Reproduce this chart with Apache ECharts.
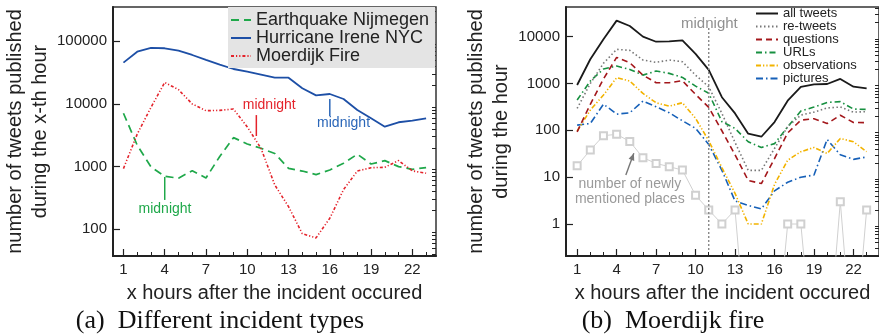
<!DOCTYPE html>
<html><head><meta charset="utf-8">
<script src="https://cdn.jsdelivr.net/npm/echarts@6/dist/echarts.min.js"></script>
<style>html,body{margin:0;padding:0;background:#fff}#c{width:879px;height:334px}</style>
</head><body><div id="c"></div>
<script>
// ---- data ----
const hours = [1,2,3,4,5,6,7,8,9,10,11,12,13,14,15,16,17,18,19,20,21,22,23];
const xMajorTicks = [1,4,7,10,13,16,19,22];
const xMinorTicks = [1,2,3,4,5,6,7,8,9,10,11,12,13,14,15,16,17,18,19,20,21,22,23];
const yTicksLeft = [100,1000,10000,100000];
const yMinorLeft = [40,50,60,70,80,90,200,300,400,500,600,700,800,900,2000,3000,4000,5000,6000,7000,8000,9000,20000,30000,40000,50000,60000,70000,80000,90000,200000,300000];
const yTicksRight = [1,10,100,1000,10000];
const yMinorRight = [0.3,0.4,0.5,0.6,0.7,0.8,0.9,2,3,4,5,6,7,8,9,20,30,40,50,60,70,80,90,200,300,400,500,600,700,800,900,2000,3000,4000,5000,6000,7000,8000,9000,20000,30000,40000];

// (a) different incident types
const earthquake = [7100,2200,990,700,655,860,660,1450,2900,2300,1960,1620,940,850,745,883,1130,1575,1100,1245,1000,906,964];
const hurricane  = [45600,68200,78200,77300,70800,60400,50300,42400,36100,32700,29300,26200,26200,17800,13700,14400,12000,8000,5900,4340,5100,5400,5900];
const moerdijk   = [930,3300,8800,22000,16900,10000,7800,7900,8300,4300,1950,510,230,85,73,150,430,850,960,975,1250,855,785];

// (b) Moerdijk fire
const allTweets    = [930,3300,8800,22000,16900,10000,7800,7900,8300,4300,1950,510,230,85,73,150,430,850,960,975,1250,855,785];
const retweets     = [294,1000,2700,5360,5100,3170,2830,3170,2920,1510,850,230,55,14,14,41,120,212,245,300,315,245,250];
const questions    = [93,360,1250,3610,2780,1510,1040,1040,1145,585,310,98,30,8.5,7.3,25,88,165,177,140,210,147,146];
const urls         = [443,1128,2040,2360,2000,1510,1845,1645,1350,880,620,153,110,57,43,52,119,258,315,395,410,285,280];
const observations = [96,270,566,1330,1128,614,388,329,388,180,60,16,4.5,1,1,7,23,35,43,32,67,57,35];
const pictures     = [129,140,363,222,237,421,318,237,160,110,50,14,3.1,2.5,2.1,5.1,7.8,10,11.1,64,30,24,27];
const newPlaces    = [17.5,38,77,82,58,26,19.7,16.7,14.2,4.1,2,1,2,0.001,0.001,0.001,1,1,0.001,0.001,3,0.001,2];

const FONT = '"Liberation Sans", Arial, Helvetica, sans-serif';
const AX = '#222';

function pairs(ys){ return hours.map((h,i)=>[h, ys[i]]); }

function xMain(gi, min, max){
  return {type:'value', gridIndex:gi, min:min, max:max, position:'bottom',
    axisLine:{show:true, onZero:false, lineStyle:{color:AX, width:2}},
    axisTick:{show:true, inside:true, length:7, customValues:xMajorTicks, lineStyle:{color:AX, width:1.2}},
    axisLabel:{show:true, customValues:xMajorTicks, margin:6, fontSize:15, color:AX, fontFamily:FONT},
    splitLine:{show:false},
    name:'x hours after the incident occured', nameLocation:'middle', nameGap:27,
    nameTextStyle:{fontSize:20, color:AX, fontFamily:FONT}};
}
function xMinor(gi, min, max){
  return {type:'value', gridIndex:gi, min:min, max:max, position:'bottom',
    axisLine:{show:false, onZero:false},
    axisTick:{show:true, inside:true, length:4, customValues:xMinorTicks, lineStyle:{color:AX, width:1}},
    axisLabel:{show:false}, splitLine:{show:false}};
}
function yMain(gi, min, max, ticks, name, gap){
  return {type:'log', logBase:10, gridIndex:gi, min:min, max:max,
    axisLine:{show:true, onZero:false, lineStyle:{color:AX, width:2}},
    axisTick:{show:true, inside:true, length:7, customValues:ticks, lineStyle:{color:AX, width:1.2}},
    axisLabel:{show:true, customValues:ticks, margin:6, fontSize:15, color:AX, fontFamily:FONT,
      formatter:function(v){ return String(v); }},
    splitLine:{show:false}, minorTick:{show:false},
    name:name, nameLocation:'middle', nameRotate:90, nameGap:gap,
    nameTextStyle:{fontSize:20, color:AX, fontFamily:FONT, lineHeight:25}};
}
function yMinor(gi, min, max, ticks){
  return {type:'log', logBase:10, gridIndex:gi, min:min, max:max,
    axisLine:{show:false, onZero:false},
    axisTick:{show:true, inside:true, length:4, customValues:ticks, lineStyle:{color:AX, width:1}},
    axisLabel:{show:false}, splitLine:{show:false}};
}
function line(name, data, xi, yi, color, width, dash, extra){
  const s = {name:name, type:'line', xAxisIndex:xi, yAxisIndex:yi, data:pairs(data),
    symbol:'none', clip:true, lineStyle:{color:color, width:width, type:dash}, itemStyle:{color:color},
    emphasis:{disabled:true}, z:3};
  return Object.assign(s, extra||{});
}

const chart = echarts.init(document.getElementById('c'));
const option = {
  animation:false,
  backgroundColor:'#fff',
  grid:[
    {left:113, top:7, width:323, height:249, show:true, borderColor:'#333', borderWidth:1.5, backgroundColor:'transparent'},
    {left:566, top:7, width:323, height:249, show:true, borderColor:'#333', borderWidth:1.5, backgroundColor:'transparent'}
  ],
  xAxis:[ xMain(0,0.24,23.72), xMinor(0,0.24,23.72), xMain(1,0.153,23.94), xMinor(1,0.153,23.94) ],
  yAxis:[
    yMain(0,37.5,352000,yTicksLeft,'number of tweets published\nduring the x-th hour',52),
    yMinor(0,37.5,352000,yMinorLeft),
    yMain(1,0.2074,43000,yTicksRight,'number of tweets published\nduring the hour',41),
    yMinor(1,0.2074,43000,yMinorRight)
  ],
  legend:[
    {data:['Earthquake Nijmegen','Hurricane Irene NYC','Moerdijk Fire'], orient:'vertical',
     left:228, top:7, backgroundColor:'#e4e4e4', padding:[4,6,3,2], itemWidth:20, itemHeight:10, itemGap:0,
     itemStyle:{opacity:0},
     textStyle:{fontSize:18, color:AX, fontFamily:FONT, lineHeight:17.5}, selectedMode:false},
    {data:['all tweets','re-tweets','questions','URLs','observations','pictures'], orient:'vertical',
     left:755, top:7, padding:0, itemWidth:22, itemHeight:8, itemGap:0,
     itemStyle:{opacity:0},
     textStyle:{fontSize:13, color:AX, fontFamily:FONT, lineHeight:12.9}, selectedMode:false}
  ],
  series:[
    line('Earthquake Nijmegen', earthquake, 0, 0, '#1fa84a', 1.7, [8,5]),
    line('Hurricane Irene NYC', hurricane, 0, 0, '#1d4fa6', 1.8, 'solid'),
    line('Moerdijk Fire', moerdijk, 0, 0, '#e4232b', 1.6, [3,2,1.2,2,1.2,2]),
    line('number of newly mentioned places', newPlaces, 2, 2, '#d0d0d0', 1, 'solid',
      {symbol:'emptyRect', symbolSize:7, showAllSymbol:true, itemStyle:{color:'#d0d0d0', borderWidth:1}, z:2}),
    line('pictures', pictures, 2, 2, '#1660b8', 1.6, [7,3,1.5,3]),
    line('observations', observations, 2, 2, '#f2b300', 1.6, [5,2,1.3,2,1.3,2]),
    line('URLs', urls, 2, 2, '#179040', 1.6, [6,3,1.5,3]),
    line('questions', questions, 2, 2, '#a3171b', 1.6, [6,4]),
    line('re-tweets', retweets, 2, 2, '#777777', 1.6, [1.5,2.5]),
    line('all tweets', allTweets, 2, 2, '#1a1a1a', 1.8, 'solid')
  ]
};
chart.setOption(option);

// ---- annotations (positions through the library's scales) ----
function P(g, x, y){ return chart.convertToPixel({xAxisIndex: g===0?0:2, yAxisIndex: g===0?0:2}, [x, y]); }
function tx(p, text, color, size, align, vAlign){
  return {type:'text', x:p[0], y:p[1], z:10, style:{text:text, fill:color, font: size+'px '+FONT,
    textAlign:align||'center', align:align||'center', textVerticalAlign:vAlign||'middle', verticalAlign:vAlign||'middle'}};
}
function ln(p1, p2, color, w, dash){
  return {type:'line', z:10, shape:{x1:p1[0], y1:p1[1], x2:p2[0], y2:p2[1]}, style:{stroke:color, lineWidth:w, lineDash:dash||null}};
}
const g = [];
// left panel midnight marks
g.push(ln(P(0,4,684), P(0,4,294), '#1fa84a', 1.5));
g.push(tx(P(0,4.02,210), 'midnight', '#1fa84a', 14));
g.push(ln(P(0,10.66,6640), P(0,10.66,3080), '#e4232b', 1.5));
g.push(tx(P(0,11.6,9400), 'midnight', '#e4232b', 14));
g.push(ln(P(0,16,12000), P(0,16,6430), '#2a66b8', 1.5));
g.push(tx(P(0,17,5000), 'midnight', '#2a66b8', 14));
// right panel
g.push(ln(P(1,11,15300), P(1,11,0.28), '#888', 1.4, [2,2]));
g.push(tx(P(1,11.05,19000), 'midnight', '#909090', 15));
g.push(tx(P(1,5.0,7.2), 'number of newly', '#9a9a9a', 14));
g.push(tx(P(1,5.0,3.45), 'mentioned places', '#9a9a9a', 14));
// arrow
const a0 = P(1,4.70,11.1), a1 = P(1,5.31,32.3);
g.push(ln(a0, a1, '#777', 1.4));
(function(){
  const dx=a1[0]-a0[0], dy=a1[1]-a0[1], L=Math.sqrt(dx*dx+dy*dy), ux=dx/L, uy=dy/L;
  const bx=a1[0]-ux*7, by=a1[1]-uy*7, px=-uy*3, py=ux*3;
  g.push({type:'polygon', z:10, shape:{points:[[a1[0],a1[1]],[bx+px,by+py],[bx-px,by-py]]}, style:{fill:'#777'}});
})();
// captions
g.push({type:'text', x:220, y:321, z:10, style:{text:'(a)  Different incident types', fill:'#111', font:'26px "Liberation Serif", "Times New Roman", serif', textAlign:'center', align:'center', textVerticalAlign:'middle', verticalAlign:'middle'}});
g.push({type:'text', x:673, y:321, z:10, style:{text:'(b)  Moerdijk fire', fill:'#111', font:'26px "Liberation Serif", "Times New Roman", serif', textAlign:'center', align:'center', textVerticalAlign:'middle', verticalAlign:'middle'}});
chart.setOption({graphic:{elements:g}});
</script>
</body></html>
